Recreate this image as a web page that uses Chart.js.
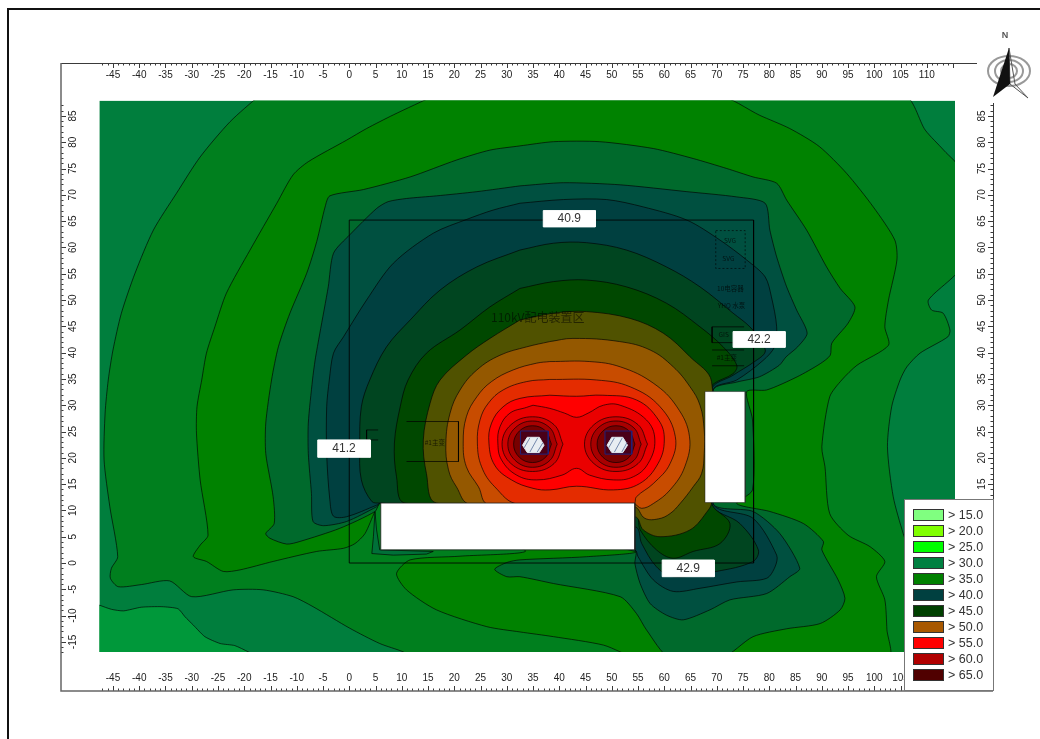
<!DOCTYPE html>
<html>
<head>
<meta charset="utf-8">
<style>
html, body { margin: 0; padding: 0; background: #fff; }
canvas { display: block; }
</style>
<script src="https://cdn.jsdelivr.net/npm/chart.js@4/dist/chart.umd.js"></script>
</head>
<body>
<canvas id="mapa" width="1040" height="739"></canvas>
<script>
// axis labels
const xTickLabels = [-45, -40, -35, -30, -25, -20, -15, -10, -5, 0, 5, 10, 15, 20, 25, 30, 35, 40, 45, 50, 55, 60, 65, 70, 75, 80, 85, 90, 95, 100, 105, 110];
const yTickLabels = [85, 80, 75, 70, 65, 60, 55, 50, 45, 40, 35, 30, 25, 20, 15, 10, 5, 0, -5, -10, -15];

// legend
const legendLabels = ['> 15.0', '> 20.0', '> 25.0', '> 30.0', '> 35.0', '> 40.0', '> 45.0', '> 50.0', '> 55.0', '> 60.0', '> 65.0'];
const legendColors = ['#80ff80', '#80ff00', '#00ff00', '#008040', '#008000', '#004040', '#004000', '#a85800', '#ff0000', '#b00000', '#500000'];

// contour bands, outer to inner as [x, y] in metres
const bandBase = [[-47.6, 87.9], [115.4, 87.9], [115.4, -16.9], [-47.6, -16.9], [-47.6, 87.9]];
const bandLowCorner = [[-49, -7.4], [-47.6, -8], [-45.3, -8.8], [-43, -9.1], [-39.6, -8.4], [-35.7, -8.3], [-32.6, -8.7], [-31.3, -10.2], [-29.7, -11.8], [-27.5, -14], [-24.6, -15.3], [-21.8, -15.7], [-19.2, -16.9], [-17, -18], [-49, -18], [-49, -7.4]];
const band325 = [[-17, 89], [105.5, 89], [109.7, 82.3], [113.2, 78.5], [117, 74], [117, 57], [110.3, 50], [110.9, 48.1], [113.1, 47.5], [114.4, 44.3], [114, 43], [108.7, 39.9], [106.2, 37.3], [104.9, 34.8], [103.3, 29.7], [102.5, 22.1], [103.6, 12.6], [105.5, 5.6], [108, -2], [110, -18], [12, -18], [10.3, -16.9], [5.8, -15.3], [0.1, -12.4], [-6.9, -8.3], [-10.7, -6.4], [-16.4, -5.1], [-22.1, -5.1], [-30, -6.4], [-34.2, -3.4], [-39.6, -4.1], [-44, -4.5], [-45.5, -2.9], [-45.3, -1], [-44.1, 1.2], [-45.6, 10.7], [-46.7, 19.6], [-46.5, 28.5], [-45.9, 34.8], [-45, 40.5], [-43.4, 47.5], [-40.8, 55.1], [-37.3, 63.3], [-32.9, 70.3], [-28.4, 77.2], [-22.7, 83.9], [-17, 89]];
const band35 = [[16.5, 89], [70, 89], [78.2, 85.1], [83.9, 82.6], [89.5, 79.2], [94.7, 74.1], [99.8, 67.7], [103.9, 61.4], [104.3, 57.6], [102.7, 50], [102, 44.9], [102.7, 41.4], [96.7, 37.6], [93.8, 34.8], [91.5, 31.6], [90, 22.1], [90.6, 18.3], [91.5, 9.4], [95, 5.3], [99.2, 3.1], [102, 0.3], [100.4, -2.6], [102, -7], [102.4, -12.7], [102.7, -18], [55, -18], [48.4, -15.6], [38.9, -14], [32.5, -13.1], [26.2, -12.1], [16.6, -8.9], [10.9, -5.1], [9, -2], [11.6, 0.6], [21.1, 1.3], [33.5, 2.4], [6, 11.4], [4.9, 9.8], [3, 5.6], [1.1, 3.7], [-1.1, 2.8], [-6.2, 2.2], [-14.5, 0.3], [-20.8, -1.3], [-24, -1.6], [-27.2, 0.3], [-29.7, 1.2], [-28.4, 3.4], [-26.9, 5.3], [-28.4, 15.8], [-29.1, 24.7], [-29, 29.7], [-28.1, 34.8], [-27.2, 39.9], [-25.6, 44.9], [-23.4, 51.3], [-18.9, 59.5], [-13.8, 68.4], [-10.7, 73.8], [-7.8, 76.3], [-0.5, 80.4], [3.3, 82.6], [8.4, 85.2], [16.5, 89]];
const bandSpike = [[4.9, 9.8], [5.2, 6.3], [5.8, 2.5], [16, 2.2], [14.7, 1.7], [8.4, 1.5], [4.3, 1.8], [4.6, 5], [4.9, 9.8]];
const band375 = [[32.5, 79.3], [38.9, 80.1], [47.7, 80.1], [57.9, 78.8], [65.5, 76.9], [71.9, 75], [76.9, 73.4], [81.4, 72.2], [83.3, 69], [87.1, 63.3], [90.9, 56.3], [93.5, 52.2], [96.3, 48.7], [95, 45.6], [91.9, 41.8], [91.6, 39.5], [89.7, 37.9], [85.3, 35.4], [79.5, 32.9], [75.7, 32.6], [76.8, 27.2], [76.8, 13.9], [73.8, 11.3], [80.1, 9.8], [86.5, 7.5], [90.3, 4.1], [90, 2.5], [93.1, -3.2], [94.4, -6.7], [93.5, -8.9], [89.7, -11.5], [83.3, -12.5], [76.9, -14], [71, -18], [61, -18], [56.6, -12.7], [54.7, -9.6], [51.6, -6.4], [38.9, -3.9], [32.5, -2.6], [30, -2.6], [27.7, -1.2], [30, 0.1], [32.5, 0.6], [45.2, 1.2], [54.4, 2.2], [6, 11.4], [4.9, 9.8], [-1.8, 6.6], [-9.4, 4.1], [-11.9, 3.6], [-15.1, 4.7], [-15.9, 5.6], [-14.3, 7.5], [-14.5, 12.6], [-15.9, 20.8], [-15.9, 26.6], [-14.8, 34.8], [-13.5, 41.1], [-11.3, 47.5], [-8.1, 55.1], [-6.2, 61.1], [-4.6, 67.7], [-3.7, 69.8], [2.7, 71], [11.6, 73.4], [20.4, 76.6], [26.8, 78.5], [32.5, 79.3]];
const band385 = [[32.5, 71.7], [40.8, 72.3], [51.6, 71.9], [64.3, 70.6], [73.8, 69.6], [79.2, 68.4], [80.1, 63.3], [81.4, 58.2], [83.3, 52.5], [85.2, 48.1], [87.2, 43.7], [85.4, 41.1], [83.2, 39.2], [81.9, 37.6], [78.1, 35.4], [73.8, 34.4], [69.3, 32.9], [69.3, 11.3], [76.9, 9.8], [82, 5.6], [85.8, -1], [83.9, -2.6], [79.5, -5.8], [72.5, -7], [68.7, -8.9], [63.6, -10.8], [60.4, -9.9], [57.3, -7.7], [55.4, -3.9], [54.4, -0.1], [54.4, 2.5], [6, 11.4], [5.2, 10.7], [-0.5, 7.9], [-4.9, 7.1], [-6.9, 7.9], [-7.2, 13.2], [-7.8, 20.8], [-7.8, 26.6], [-7, 34.8], [-6.5, 38.6], [-5.6, 43.7], [-4, 52.5], [-3, 58.9], [0.1, 62.4], [5.2, 67.4], [7.4, 68.7], [10.9, 69.3], [16.6, 69.8], [24.3, 70.6], [32.5, 71.7]];
const band40 = [[32.5, 68.4], [40.8, 69.1], [49, 69.1], [56, 67.7], [64.3, 65.2], [70.6, 61.4], [75.7, 57.6], [79.2, 54.4], [80.4, 50.6], [81.4, 44.9], [81, 41.1], [78.8, 38.5], [73.8, 34.8], [69.3, 32.9], [69.3, 11.3], [76.9, 8.5], [81.4, 1.5], [81.1, -0.7], [79.5, -2.9], [73.8, -3.6], [66.8, -4.8], [61.7, -5.4], [57.9, -3.2], [55, 1.2], [54.4, 2.5], [6, 11.4], [5.2, 11], [-0.5, 8.8], [-3, 8.9], [-3.7, 12], [-4.3, 20.8], [-4.3, 29.7], [-3.8, 34.8], [-3, 39.9], [-1.1, 43], [3.3, 50], [8.4, 57], [16, 62.7], [22.3, 65.3], [27.4, 67.1], [32.5, 68.4]];
const band425 = [[32.5, 59.5], [38.9, 60.8], [45.2, 60.9], [52.8, 59.5], [60.4, 56.3], [66.8, 52.5], [73.1, 47.5], [76.3, 44.9], [78.5, 42], [79.2, 40.1], [77.2, 38.3], [73.1, 35.7], [69, 32.9], [69, 11.3], [74.4, 7.5], [77.9, 2.5], [76.9, 0.3], [69.9, -1.6], [61.7, -2.6], [58.5, -0.7], [55.7, 3.7], [54.4, 6.9], [6, 11.4], [4.3, 11.7], [2.3, 15.8], [2, 22.1], [2.3, 29.7], [3.9, 34.8], [7.1, 41.1], [11.6, 46.2], [17.3, 51.9], [24.3, 56.3], [32.5, 59.5]];
const band45 = [[32.5, 52.2], [38.9, 53.5], [45.2, 53.8], [52.8, 52.5], [60.4, 49.4], [66.8, 44.9], [71.2, 41.1], [73.8, 37.6], [73.1, 36], [69.3, 34], [69, 32.5], [69, 11.5], [72.5, 7.5], [70.6, 3.7], [65.5, 2.2], [61.7, 0.9], [58.5, 2.5], [55.4, 6.3], [54.4, 9.4], [10.6, 11.4], [9, 16.4], [8.6, 22.8], [9.7, 29.7], [11.2, 34.8], [14.7, 39.9], [21.1, 44.3], [26.8, 48.7], [32.5, 52.2]];
const band475 = [[32.5, 46.2], [38.9, 47.5], [45.2, 47.8], [53.5, 46.5], [59.8, 43.7], [64.9, 39.2], [69, 34.5], [69, 11.5], [68.4, 10.1], [64.9, 6.3], [59.2, 5], [56, 6.3], [54.4, 8.8], [16.6, 11.4], [14.7, 17], [14.1, 23.4], [15.4, 30.4], [17.3, 34.8], [22.3, 39.5], [26.8, 42.7], [32.5, 46.2]];
const band50 = [[38.2, 42.1], [42.6, 42.7], [51.5, 42.1], [57.3, 40.5], [61.7, 37.3], [64.9, 33.5], [66.8, 30], [67.6, 25.3], [67.6, 20.8], [67.1, 17], [65.5, 14.5], [63, 11.3], [61.1, 9.4], [58.9, 8.4], [56.3, 8.5], [54.2, 10.7], [23, 11.2], [20.4, 14.5], [18.9, 17.7], [18.4, 22.8], [19.2, 28.5], [21.1, 32.9], [24.3, 36.7], [28.7, 39.5], [33.8, 41.1], [38.2, 42.1]];
const band515 = [[38.2, 38.3], [45.8, 38.3], [51.6, 37.3], [57.9, 34.2], [62.4, 29.7], [64.8, 24], [63.9, 18.3], [61.1, 13.9], [57.9, 11.3], [55.7, 10.4], [54.2, 11.2], [26.5, 11.2], [24.6, 14.5], [22.3, 18.3], [21.7, 22.8], [22.3, 27.8], [24.3, 31.6], [27.1, 34.5], [31.2, 36.7], [35.7, 38], [38.2, 38.3]];
const band53 = [[38.2, 34.9], [47.1, 34.8], [53.5, 33.5], [59.2, 29.7], [62.1, 24], [61.1, 18.9], [57.9, 15.1], [54.7, 12.6], [54.1, 11.2], [32.2, 11.2], [27.7, 14.5], [25.2, 18.3], [24.4, 22.8], [24.9, 27.2], [26.5, 30.4], [29.3, 32.9], [33.8, 34.5], [38.2, 34.9]];
const band55 = [[38.2, 31.9], [43.3, 31.7], [48.3, 31.9], [54.7, 31], [58.9, 27.2], [60, 23.4], [58.8, 18.9], [55.3, 15.1], [50.3, 13.9], [43.3, 14.6], [38.2, 13.9], [35, 14.2], [30.9, 15.8], [27.7, 18.6], [26.6, 22.8], [27.1, 26.6], [29.3, 29.7], [32.5, 31.3], [38.2, 31.9]];
const band565 = [[35, 30], [38.2, 29.4], [41, 28.5], [43.3, 27.7], [45.5, 28.5], [48.4, 30], [51.6, 30], [56.6, 27.2], [58.2, 23.4], [56.9, 18.9], [54.1, 16.4], [50.3, 15.8], [45.8, 16.7], [43.3, 18], [40.5, 16.7], [35.7, 15.8], [31.9, 16.7], [29, 19.6], [28.3, 22.8], [28.7, 25.9], [30.6, 28.5], [33.8, 29.6], [35, 30]];

// rings round the two sources
const ringWest1 = [[40.7, 22.6], [39, 26.3], [34.9, 27.8], [30.8, 26.3], [29.1, 22.6], [30.8, 18.9], [34.9, 17.4], [39, 18.9], [40.7, 22.6]];
const ringWest2 = [[39.6, 22.6], [38.2, 25.7], [34.9, 27], [31.6, 25.7], [30.2, 22.6], [31.6, 19.5], [34.9, 18.2], [38.2, 19.5], [39.6, 22.6]];
const ringWest3 = [[38.5, 22.6], [37.4, 25.1], [34.9, 26.1], [32.4, 25.1], [31.3, 22.6], [32.4, 20.1], [34.9, 19.1], [37.4, 20.1], [38.5, 22.6]];
const ringEast1 = [[56.8, 22.6], [55, 26.3], [50.8, 27.8], [46.6, 26.3], [44.8, 22.6], [46.6, 18.9], [50.8, 17.4], [55, 18.9], [56.8, 22.6]];
const ringEast2 = [[55.6, 22.6], [54.2, 25.7], [50.8, 27], [47.4, 25.7], [46, 22.6], [47.4, 19.5], [50.8, 18.2], [54.2, 19.5], [55.6, 22.6]];
const ringEast3 = [[54.4, 22.6], [53.3, 25.1], [50.8, 26.1], [48.3, 25.1], [47.2, 22.6], [48.3, 20.1], [50.8, 19.1], [53.3, 20.1], [54.4, 22.6]];

// site plan lines under the labels
const siteOutline = [[0, 65.2], [77, 65.2], [77, 0], [0, 0], [0, 65.2]];
const planBoxWest = [[10.9, 26.9], [20.8, 26.9], [20.8, 19.3], [10.9, 19.3]];
const planTickWest = [[5.5, 25.3], [3.3, 25.3], [3.3, 23.4], [5.5, 23.4]];
const planBoxEast = [[75.2, 44.9], [69.1, 44.9], [69.1, 41.9], [75.2, 41.9]];
const planLineEast1 = [[69.1, 40.5], [75.2, 40.5]];
const planLineEast2 = [[69.1, 37.5], [75.2, 37.5]];
const planDashed = [[69.8, 63.2], [75.4, 63.2], [75.4, 56], [69.8, 56], [69.8, 63.2]];

// source markers
const boxWest = [[32.6, 25.1], [37.9, 25.1], [37.9, 20.7], [32.6, 20.7], [32.6, 25.1]];
const boxEast = [[48.7, 25.1], [53.8, 25.1], [53.8, 20.7], [48.7, 20.7], [48.7, 25.1]];
const holeWest = [[37.1, 22.4], [36.2, 23.9], [33.9, 23.9], [33, 22.4], [33.9, 21], [36.2, 21], [37.1, 22.4]];
const holeEast = [[53, 22.4], [52.1, 23.9], [50, 23.9], [49.1, 22.4], [50, 21], [52.1, 21], [53, 22.4]];
const hatchLines = [
    [[33.3, 21.9], [34.4, 23.8]], [[34.4, 21.1], [35.9, 23.8]], [[35.8, 21.1], [36.9, 22.9]],
    [[49.4, 21.9], [50.5, 23.8]], [[50.5, 21.1], [52, 23.8]], [[51.9, 21.1], [52.9, 22.9]]
];

// blanked areas and value boxes
const blankSouth = [[6, 11.4], [54.4, 11.4], [54.4, 2.5], [6, 2.5], [6, 11.4]];
const blankEast = [[67.75, 32.6], [75.4, 32.6], [75.4, 11.5], [67.75, 11.5], [67.75, 32.6]];
const valueLabels = ['40.9', '42.2', '41.2', '42.9'];
const valueBoxes = [
    [[36.95, 67], [46.86, 67], [46.86, 63.9], [36.95, 63.9], [36.95, 67]],
    [[73.1, 44], [83, 44], [83, 41], [73.1, 41], [73.1, 44]],
    [[-6, 23.4], [4, 23.4], [4, 20.1], [-6, 20.1], [-6, 23.4]],
    [[59.6, 0.57], [69.5, 0.57], [69.5, -2.6], [59.6, -2.6], [59.6, 0.57]]
];

// faint plan texts
const planTexts = ['110kV配电装置区', '#1主变', 'SVG', 'SVG', '10电容器', 'YHQ 水泵', 'GIS', '#1主变'];
const planTextX = [35.9, 16.3, 72.5, 72.2, 72.6, 72.8, 71.3, 71.9];
const planTextY = [46.7, 23, 61.4, 57.8, 52.2, 48.9, 43.5, 39];

// coloured region sits inside the axis frame, the bands are cut off at its edge
const regionClip = { left: -38.4, top: -37.6, right: -38, bottom: -39 };

function toPoints(list) {
    return list.map(p => ({ x: p[0], y: p[1] }));
}

function band(list, fillColor, tension) {
    return {
        data: toPoints(list),
        polyFill: fillColor,
        showLine: true,
        pointRadius: 0,
        borderColor: 'rgba(0,0,0,0.8)',
        borderWidth: 0.8,
        tension: tension || 0,
        clip: regionClip
    };
}

function planLine(list, color, dash) {
    return {
        data: toPoints(list),
        showLine: true,
        pointRadius: 0,
        borderColor: color || 'rgba(0,0,0,0.85)',
        borderWidth: 1,
        borderDash: dash || []
    };
}

function whiteBox(list, edge) {
    return {
        data: toPoints(list),
        polyFill: '#ffffff',
        showLine: true,
        pointRadius: 0,
        borderColor: edge,
        borderWidth: 1
    };
}

const datasets = [
    Object.assign(band(bandBase, '#007e3d'), { borderWidth: 0 }),
    band(bandLowCorner, '#00983a', 0.2),
    band(band325, '#007f1e', 0.25),
    band(band35, '#008200', 0.25),
    band(bandSpike, '#007038'),
    band(band375, '#006a2c', 0.25),
    band(band385, '#005040', 0.25),
    band(band40, '#004040', 0.3),
    band(band425, '#004520', 0.35),
    band(band45, '#004800', 0.35),
    band(band475, '#505200', 0.35),
    band(band50, '#945800', 0.4),
    band(band515, '#c84c00', 0.4),
    band(band53, '#e42c00', 0.4),
    band(band55, '#ff0000', 0.4),
    band(band565, '#ea0000', 0.4),
    band(ringWest1, '#cc0000', 0.4),
    band(ringEast1, '#cc0000', 0.4),
    band(ringWest2, '#a80000', 0.4),
    band(ringEast2, '#a80000', 0.4),
    band(ringWest3, '#780000', 0.4),
    band(ringEast3, '#780000', 0.4),
    Object.assign(planLine(boxWest, '#20207a'), { polyFill: '#4a0018' }),
    Object.assign(planLine(boxEast, '#20207a'), { polyFill: '#4a0018' }),
    Object.assign(planLine(holeWest, '#dfe6ee'), { polyFill: '#e8edf2' }),
    Object.assign(planLine(holeEast, '#dfe6ee'), { polyFill: '#e8edf2' }),
    ...hatchLines.map(h => planLine(h, '#7488ac')),
    planLine(siteOutline),
    planLine(planBoxWest, 'rgba(0,0,0,0.7)'),
    planLine(planTickWest, 'rgba(0,0,0,0.7)'),
    planLine(planBoxEast, 'rgba(0,0,0,0.7)'),
    planLine(planLineEast1, 'rgba(0,0,0,0.7)'),
    planLine(planLineEast2, 'rgba(0,0,0,0.7)'),
    planLine(planDashed, 'rgba(0,0,0,0.6)', [2, 2]),
    whiteBox(blankSouth, 'rgba(30,30,30,0.8)'),
    whiteBox(blankEast, 'rgba(30,30,30,0.5)'),
    ...valueBoxes.map(b => whiteBox(b, 'rgba(255,255,255,1)'))
];

// Chart.js draws the first dataset on top, the bands must stack the other way
datasets.reverse();

// fills each closed contour with the line element's own path
const bandFill = {
    id: 'bandFill',
    beforeDatasetDraw(chart, args) {
        const ds = chart.data.datasets[args.index];
        if (!ds.polyFill) return;
        const line = chart.getDatasetMeta(args.index).dataset;
        const area = chart.chartArea;
        const ctx = chart.ctx;
        ctx.save();
        if (ds.clip) {
            ctx.beginPath();
            ctx.rect(area.left - ds.clip.left, area.top - ds.clip.top,
                area.width + ds.clip.left + ds.clip.right, area.height + ds.clip.top + ds.clip.bottom);
            ctx.clip();
        }
        line.updateControlPoints(area, 'x');
        ctx.beginPath();
        line.path(ctx);
        ctx.closePath();
        ctx.fillStyle = ds.polyFill;
        ctx.fill();
        ctx.restore();
    }
};

function drawAxes(chart) {
    const ctx = chart.ctx;
    const sx = chart.scales.x;
    const sy = chart.scales.y;
    const area = chart.chartArea;
    const left = area.left, right = area.right, top = area.top, bottom = area.bottom;

    ctx.save();
    ctx.strokeStyle = '#3a3a3a';
    ctx.lineWidth = 1;
    ctx.beginPath();
    ctx.moveTo(left, top + 0.5); ctx.lineTo(977, top + 0.5);
    ctx.moveTo(right + 0.5, 103); ctx.lineTo(right + 0.5, bottom);
    for (let v = -47; v <= 115; v++) {
        const px = Math.round(sx.getPixelForValue(v)) + 0.5;
        const len = v % 5 === 0 ? 5 : 2.5;
        ctx.moveTo(px, top); ctx.lineTo(px, top + len);
        ctx.moveTo(px, bottom); ctx.lineTo(px, bottom - len);
    }
    for (let v = -17; v <= 87; v++) {
        const py = Math.round(sy.getPixelForValue(v)) + 0.5;
        const len = v % 5 === 0 ? 5 : 2.5;
        ctx.moveTo(left, py); ctx.lineTo(left + len, py);
        ctx.moveTo(right, py); ctx.lineTo(right - len, py);
    }
    ctx.stroke();

    ctx.strokeStyle = '#666';
    ctx.lineWidth = 1.5;
    ctx.beginPath();
    ctx.moveTo(left, top); ctx.lineTo(left, bottom); ctx.lineTo(right, bottom);
    ctx.stroke();

    ctx.fillStyle = '#222';
    ctx.font = '10px "Liberation Sans"';
    ctx.textAlign = 'center';
    ctx.textBaseline = 'middle';
    xTickLabels.forEach(v => {
        const px = sx.getPixelForValue(v);
        ctx.fillText(String(v), px, 75);
        ctx.fillText(String(v), px, 678);
    });
    yTickLabels.forEach(v => {
        const py = sy.getPixelForValue(v);
        [73, 982].forEach(px => {
            ctx.save();
            ctx.translate(px, py);
            ctx.rotate(-Math.PI / 2);
            ctx.fillText(String(v), 0, 0);
            ctx.restore();
        });
    });
    ctx.restore();
}

function drawLegend(ctx) {
    ctx.save();
    ctx.fillStyle = '#fff';
    ctx.strokeStyle = '#777';
    ctx.lineWidth = 1;
    ctx.fillRect(904, 499, 90, 192);
    ctx.strokeRect(904.5, 499.5, 89, 191);
    ctx.font = '12.5px "Liberation Sans"';
    ctx.textAlign = 'left';
    ctx.textBaseline = 'middle';
    legendLabels.forEach((label, i) => {
        const y = 509 + 16 * i;
        ctx.fillStyle = legendColors[i];
        ctx.fillRect(913, y, 31, 12);
        ctx.strokeStyle = '#333';
        ctx.strokeRect(913.5, y + 0.5, 30, 11);
        ctx.fillStyle = '#333';
        ctx.fillText(label, 948, y + 6.5);
    });
    ctx.restore();
}

function drawNorth(ctx) {
    ctx.save();
    ctx.strokeStyle = '#999';
    ctx.lineWidth = 2;
    [[21, 15], [14, 11], [8, 7]].forEach(r => {
        ctx.beginPath();
        ctx.ellipse(1009, 71, r[0], r[1], 0, 0, Math.PI * 2);
        ctx.stroke();
    });
    ctx.strokeStyle = '#555';
    ctx.lineWidth = 1;
    ctx.beginPath();
    ctx.moveTo(1009, 48); ctx.lineTo(1015, 84); ctx.lineTo(1028, 98); ctx.lineTo(1010, 84);
    ctx.closePath();
    ctx.stroke();
    ctx.fillStyle = '#111';
    ctx.beginPath();
    ctx.moveTo(1009, 48); ctx.lineTo(993, 97); ctx.lineTo(1010, 84);
    ctx.closePath();
    ctx.fill();
    ctx.fillStyle = '#555';
    ctx.font = 'bold 9px "Liberation Sans"';
    ctx.textAlign = 'center';
    ctx.textBaseline = 'middle';
    ctx.fillText('N', 1005, 36);
    ctx.restore();
}

const mapOverlay = {
    id: 'mapOverlay',
    afterDraw(chart) {
        const ctx = chart.ctx;
        const sx = chart.scales.x;
        const sy = chart.scales.y;

        ctx.save();
        ctx.textAlign = 'center';
        ctx.textBaseline = 'middle';
        planTexts.forEach((t, i) => {
            ctx.font = i === 0 ? '12px "Noto Sans CJK SC"' : '6.5px "Noto Sans CJK SC"';
            ctx.fillStyle = i === 0 ? 'rgba(0,0,0,0.55)' : 'rgba(0,0,0,0.7)';
            ctx.fillText(t, sx.getPixelForValue(planTextX[i]), sy.getPixelForValue(planTextY[i]));
        });
        ctx.fillStyle = '#333';
        ctx.font = '12px "Liberation Sans"';
        valueLabels.forEach((t, i) => {
            const b = valueBoxes[i];
            const cx = (b[0][0] + b[1][0]) / 2;
            const cy = (b[0][1] + b[2][1]) / 2;
            ctx.fillText(t, sx.getPixelForValue(cx), sy.getPixelForValue(cy));
        });
        ctx.restore();

        drawAxes(chart);
        drawLegend(ctx);
        drawNorth(ctx);

        // page edge: only the top and left rules are in the picture
        ctx.save();
        ctx.strokeStyle = '#111';
        ctx.lineWidth = 2;
        ctx.beginPath();
        ctx.moveTo(1040, 9); ctx.lineTo(8, 9); ctx.lineTo(8, 739);
        ctx.stroke();
        ctx.restore();
    }
};

new Chart(document.getElementById('mapa').getContext('2d'), {
    type: 'scatter',
    data: { datasets: datasets },
    plugins: [bandFill, mapOverlay],
    options: {
        responsive: false,
        animation: false,
        layout: { padding: { left: 61, top: 63, right: 47, bottom: 48 } },
        plugins: { legend: { display: false }, tooltip: { enabled: false } },
        scales: {
            x: { type: 'linear', display: false, min: -54.9, max: 122.6 },
            y: { type: 'linear', display: false, min: -24.33, max: 95.06 }
        }
    }
});
</script>
</body>
</html>
